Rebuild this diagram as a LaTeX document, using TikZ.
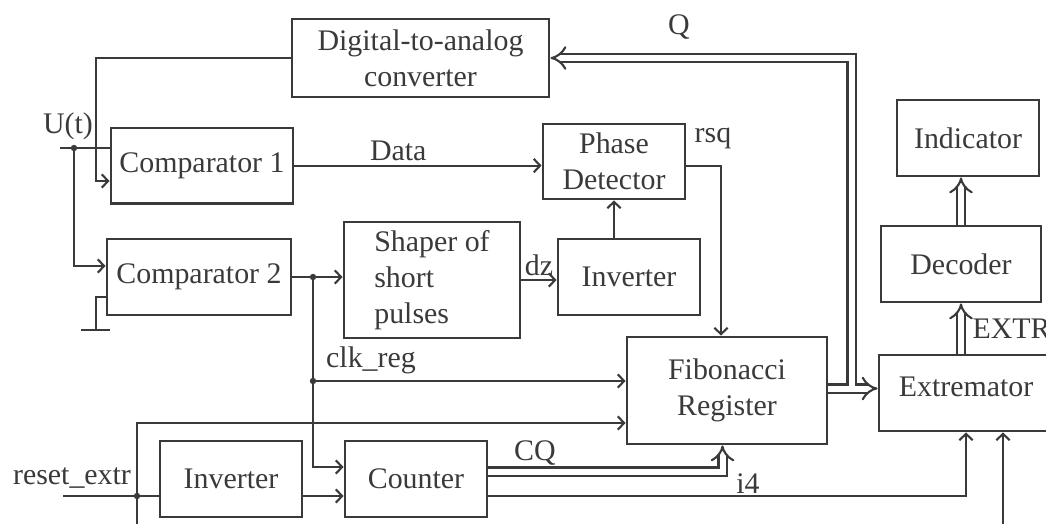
\documentclass[tikz,border=0pt]{standalone}
\usepackage{fontspec}
\setmainfont{Liberation Serif}
\usetikzlibrary{arrows.meta}
\definecolor{ink}{HTML}{3A3A3A}
\tikzset{>={Straight Barb[length=1.8pt,width=3.8pt]}}
\tikzstyle{blk}=[draw=ink,line width=0.8pt,inner sep=0pt,align=center]
\tikzstyle{bus}=[double=white,double distance=0.06cm]
\tikzstyle{lbl}=[inner sep=1pt]

\begin{document}
\begin{tikzpicture}[x=0.01cm,y=-0.01cm,line width=0.6pt,color=ink,font=\fontsize{8.5}{10.2}\selectfont]
  \useasboundingbox (0,0) rectangle (1046,524);
  % blocks
  \node[blk,minimum width=2.57cm,minimum height=0.78cm] (dac) at (420.5,58) {Digital-to-analog\\converter};
  \node[blk,minimum width=1.82cm,minimum height=0.75cm] (cmpa) at (202,165.6) {Comparator 1};
  \node[blk,minimum width=1.84cm,minimum height=0.76cm] (cmpb) at (199,277) {Comparator 2};
  \node[blk,minimum width=1.42cm,minimum height=0.75cm] (pd) at (614,161.5) {Phase\\Detector};
  \node[blk,minimum width=1.76cm,minimum height=1.16cm,align=left] (shp) at (432,280) {Shaper of\\short\\pulses};
  \node[blk,minimum width=1.42cm,minimum height=0.76cm] (inva) at (629,277) {Inverter};
  \node[blk,minimum width=2.00cm,minimum height=1.07cm] (fib) at (727,390.5) {Fibonacci\\Register};
  \node[blk,minimum width=1.42cm,minimum height=0.76cm] (invb) at (231,479) {Inverter};
  \node[blk,minimum width=1.42cm,minimum height=0.76cm] (cnt) at (416,479) {Counter};
  \node[blk,minimum width=1.42cm,minimum height=0.76cm] (ind) at (968,138) {Indicator};
  \node[blk,minimum width=1.60cm,minimum height=0.76cm] (dec) at (961,264) {Decoder};
  \node[blk,minimum width=1.74cm,minimum height=0.76cm] (ext) at (966,393) {\raisebox{0.12cm}{Extremator}};

  % input U(t)
  \coordinate (uin) at (60,148);
  \coordinate (ju) at (74,148);
  \draw (uin) -- (uin -| cmpa.west);
  \fill (ju) circle (0.032cm);
  \node[lbl] at (68,126) {U(t)};
  \draw[->] (ju) |- (cmpb.west |- 0,266);
  \draw[->] (dac.west) -| (96,181) -- (cmpa.west |- 0,181);
  % ground
  \coordinate (gnd) at (96,330);
  \draw (cmpb.west |- 0,297) -| (gnd);
  \draw ([xshift=-0.15cm]gnd) -- ([xshift=0.14cm]gnd);

  \draw[->] (cmpa.east) -- (cmpa.east -| pd.west) node[lbl,pos=0.42,above] {Data};
  \draw[->] (pd.east |- cmpa.east) -| ([xshift=-0.06cm]fib.north);
  \node[lbl] at (713,138) {rsq};
  \draw[->] (inva.north -| pd.south) -- (pd.south);
  \draw[->] (shp.east) -- (shp.east -| inva.west) node[lbl,midway,above] {dz};

  % clock
  \draw[->] (cmpb.east) -- (cmpb.east -| shp.west);
  \coordinate (jc) at (cmpb.east -| 313,0);
  \coordinate (jk) at (313,381);
  \fill (jc) circle (0.032cm);
  \fill (jk) circle (0.032cm);
  \draw[->] (jc) |- (cnt.west |- 0,467);
  \draw[->] (jk) -- (jk -| fib.west);
  \node[lbl] at (371,360) {clk\_reg};

  % reset
  \coordinate (rin) at (63,496);
  \coordinate (jr) at (137,496);
  \draw (rin) -- (rin -| invb.west);
  \fill (jr) circle (0.032cm);
  \node[lbl] at (72,478) {reset\_extr};
  \draw (jr) -- (137,524);
  \draw[->] (jr) |- (fib.west |- 0,423);
  \draw[->] (invb.east |- rin) -- (cnt.west |- rin);

  % counter outputs
  \draw[bus,-Implies] (cnt.east |- 0,471.5) -| ([xshift=-0.045cm]fib.south);
  \node[lbl] at (535,453) {CQ};
  \draw[->] (cnt.east |- rin) -| (ext.south);
  \node[lbl] at (748,484) {i4};
  \coordinate (ein) at (1003,524);
  \draw[->] (ein) -- (ein |- ext.south);

  % Q bus
  \draw[bus,Implies-Implies] (fib.east |- 0,388.5) -- (851.5,388.5)
    (dac.east) -| (851.5,388.5) -- (ext.west |- 0,388.5);
  \node[lbl] at (679,27) {Q};
  \draw[bus,-Implies] (dec.north) -- (dec.north |- ind.south);
  \draw[bus,-Implies] (ext.north -| dec.north) -- (dec.south) node[lbl,midway,right=2pt] {EXTR};
\end{tikzpicture}
\end{document}
